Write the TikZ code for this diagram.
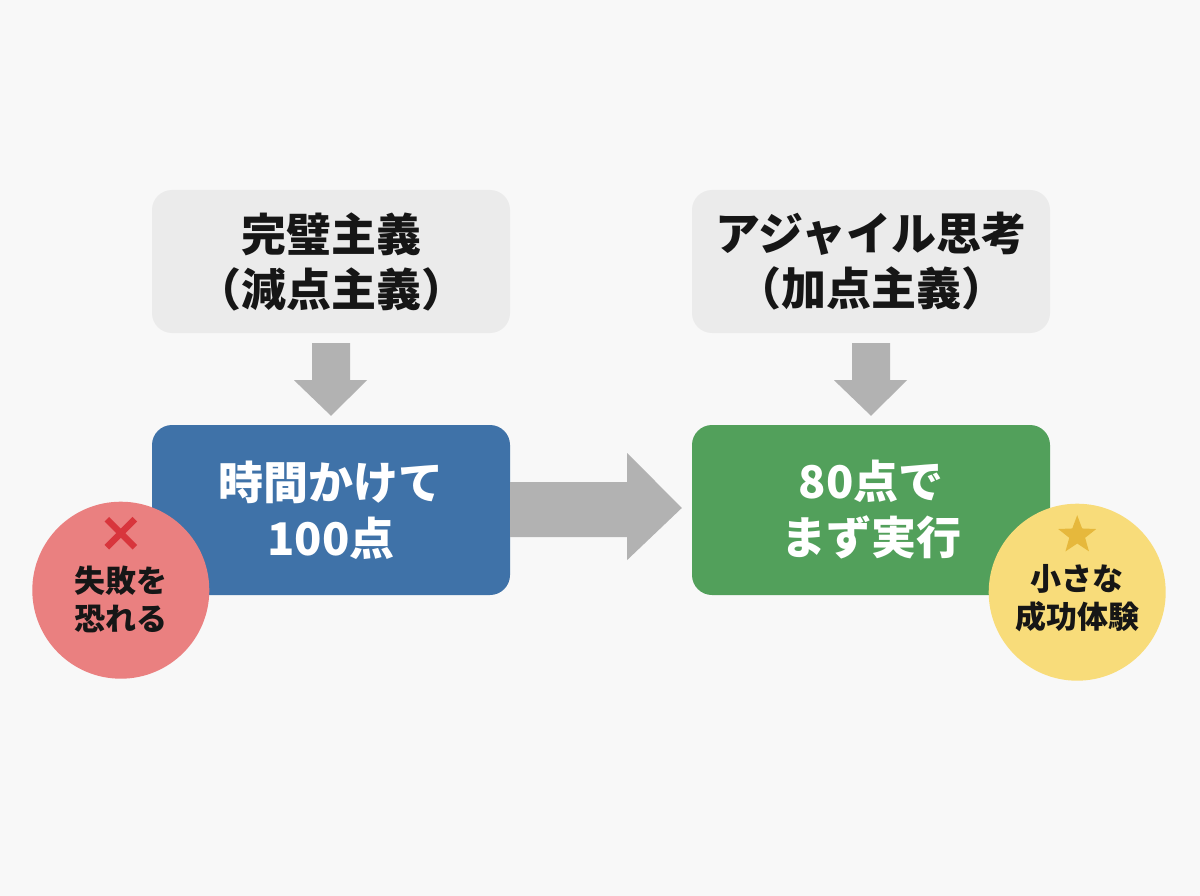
\documentclass[tikz,border=0pt]{standalone}
\usepackage{fontspec}
\setmainfont{Noto Sans CJK JP}
\usetikzlibrary{arrows.meta,positioning,calc,shapes.geometric}

\definecolor{pagebg}{HTML}{F8F8F8}
\definecolor{boxgray}{HTML}{EBEBEB}
\definecolor{arrowgray}{HTML}{B2B2B2}
\definecolor{perfblue}{HTML}{3F72A8}
\definecolor{agilegreen}{HTML}{52A05B}
\definecolor{fearred}{HTML}{EA8080}
\definecolor{crossred}{HTML}{D8353C}
\definecolor{winyellow}{HTML}{F8DC7A}
\definecolor{stargold}{HTML}{E6B83C}
\definecolor{inkdark}{HTML}{161616}

\begin{document}
\begin{tikzpicture}[x=1pt, y=-1pt, >=Stealth,
    topbox/.style={fill=boxgray, rounded corners=20pt, minimum width=358pt, minimum height=143pt, align=center, text=inkdark, font=\fontsize{45}{55}\selectfont\bfseries},
    mainbox/.style={rounded corners=20pt, minimum width=358pt, minimum height=170pt, align=center, text=white, font=\fontsize{45}{56}\selectfont\bfseries},
    badge/.style={circle, minimum size=177pt, inner sep=0pt},
    badgetext/.style={align=center, text=inkdark, font=\fontsize{31}{38}\selectfont\bfseries}]
	  \fill[pagebg] (0,0) rectangle (1200,896);
	  \useasboundingbox (0,0) rectangle (1200,896);
	  % upper row
	  \node[topbox] (perf) at (331,261.5) {完璧主義\\（減点主義）};
	  \node[topbox] (agile) at (871,261.5) {アジャイル思考\\（加点主義）};
	  % lower row
	  \node[mainbox, fill=perfblue] (slow) at (331,510) {時間かけて\\100点};
	  \node[mainbox, fill=agilegreen] (fast) at (871,510) {80点で\\まず実行};
	  % block arrows
	  \fill[arrowgray] ($(perf.south)+(-19,10)$) -- ($(perf.south)+(19,10)$) -- ($(perf.south)+(19,47)$) -- ($(perf.south)+(36,47)$)
	    -- ($(slow.north)+(0,-9)$) -- ($(perf.south)+(-37,47)$) -- ($(perf.south)+(-19,47)$) -- cycle;
	  \fill[arrowgray] ($(agile.south)+(-19,10)$) -- ($(agile.south)+(19,10)$) -- ($(agile.south)+(19,47)$) -- ($(agile.south)+(36,47)$)
	    -- ($(fast.north)+(0,-9)$) -- ($(agile.south)+(-37,47)$) -- ($(agile.south)+(-19,47)$) -- cycle;
	  \fill[arrowgray] ($(slow.east)+(0,-28)$) -- ($(slow.east)+(117,-28)$) -- ($(slow.east)+(117,-57)$)
	    -- ($(fast.west)+(-10,-2)$) -- ($(slow.east)+(117,50)$) -- ($(slow.east)+(117,27)$) -- ($(slow.east)+(0,27)$) -- cycle;
	  % badges
	  \node[badge, fill=fearred] (fear) at ($(slow.south west)+(-31,-5)$) {};
	  \node[badgetext] (feartxt) at ($(fear.center)+(0,9)$) {失敗を\\恐れる};
	  \draw[crossred, line width=6.5pt] ($(fear.center)+(-14,-71)$) -- ($(fear.center)+(14,-43)$)
	    ($(fear.center)+(-14,-43)$) -- ($(fear.center)+(14,-71)$);
	  \node[badge, fill=winyellow] (win) at ($(fast.south east)+(27,-3)$) {};
	  \node[badgetext] (wintxt) at ($(win.center)+(0,6)$) {小さな\\成功体験};
	  \node[star, star points=5, star point ratio=2.4, fill=stargold, minimum size=40pt, inner sep=0pt] (winstar) at ($(win.center)+(0,-57)$) {};
	\end{tikzpicture}
\end{document}
